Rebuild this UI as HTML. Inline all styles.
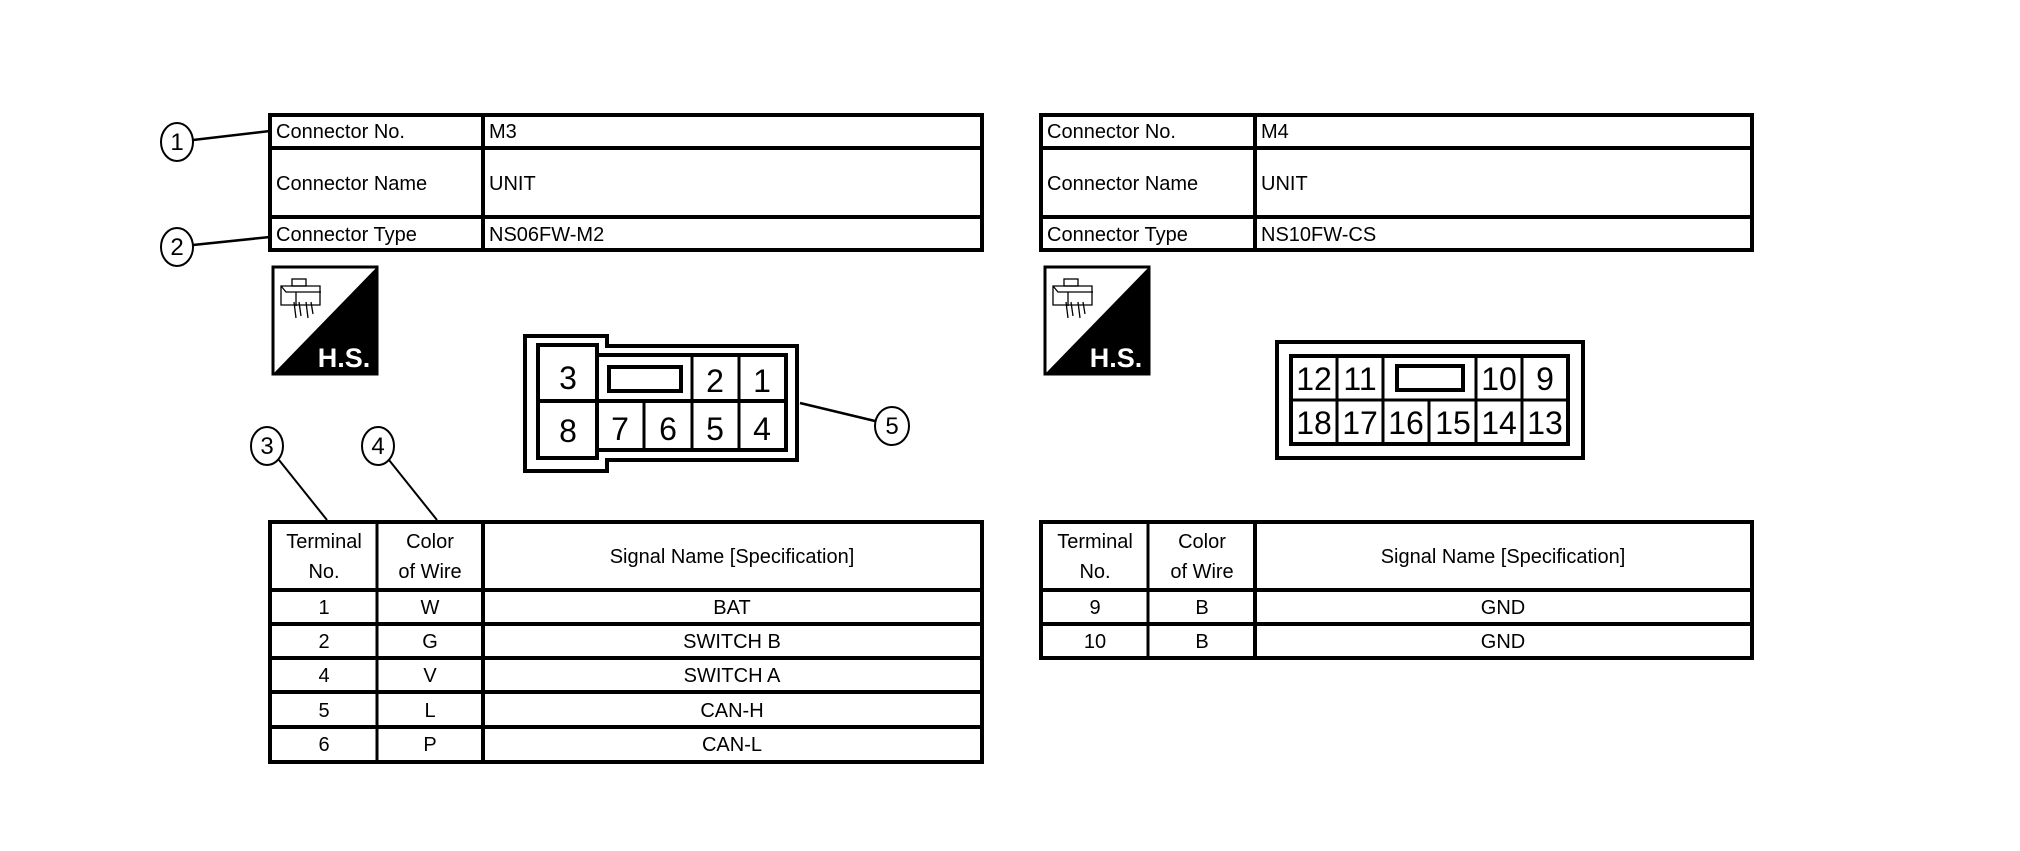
<!DOCTYPE html>
<html><head><meta charset="utf-8"><style>
html,body{margin:0;padding:0;background:#fff;}
svg{display:block;}
text{font-family:"Liberation Sans Narrow","Liberation Sans",sans-serif;fill:#000;}
</style></head><body>
<svg width="2020" height="851" viewBox="0 0 2020 851" xmlns="http://www.w3.org/2000/svg">
<rect width="2020" height="851" fill="#fff"/>
<g fill="none" stroke="#000">
<rect x="270" y="115" width="712" height="135" stroke-width="4"/>
<line x1="270" y1="148" x2="982" y2="148" stroke-width="4"/>
<line x1="270" y1="217" x2="982" y2="217" stroke-width="4"/>
<line x1="483" y1="115" x2="483" y2="250" stroke-width="4"/>
<rect x="1041" y="115" width="711" height="135" stroke-width="4"/>
<line x1="1041" y1="148" x2="1752" y2="148" stroke-width="4"/>
<line x1="1041" y1="217" x2="1752" y2="217" stroke-width="4"/>
<line x1="1255" y1="115" x2="1255" y2="250" stroke-width="4"/>
<ellipse cx="177" cy="142" rx="16" ry="19" stroke-width="2"/>
<line x1="193" y1="140" x2="270" y2="131" stroke-width="2.5"/>
<ellipse cx="177" cy="247" rx="16" ry="19" stroke-width="2"/>
<line x1="193" y1="245" x2="270" y2="237" stroke-width="2.5"/>
<ellipse cx="267" cy="446" rx="16" ry="19" stroke-width="2"/>
<line x1="279" y1="460" x2="327" y2="520" stroke-width="2"/>
<ellipse cx="378" cy="446" rx="16" ry="19" stroke-width="2"/>
<line x1="389" y1="460" x2="437" y2="520" stroke-width="2"/>
<ellipse cx="892" cy="426" rx="17" ry="19" stroke-width="2"/>
<line x1="800" y1="403" x2="875" y2="421" stroke-width="2.5"/>
<rect x="270" y="522" width="712" height="240" stroke-width="4"/>
<line x1="270" y1="590" x2="982" y2="590" stroke-width="4"/>
<line x1="270" y1="624" x2="982" y2="624" stroke-width="4"/>
<line x1="270" y1="658" x2="982" y2="658" stroke-width="4"/>
<line x1="270" y1="692" x2="982" y2="692" stroke-width="4"/>
<line x1="270" y1="727" x2="982" y2="727" stroke-width="4"/>
<line x1="377" y1="522" x2="377" y2="762" stroke-width="3"/>
<line x1="483" y1="522" x2="483" y2="762" stroke-width="4"/>
<rect x="1041" y="522" width="711" height="136" stroke-width="4"/>
<line x1="1041" y1="590" x2="1752" y2="590" stroke-width="4"/>
<line x1="1041" y1="624" x2="1752" y2="624" stroke-width="4"/>
<line x1="1148" y1="522" x2="1148" y2="658" stroke-width="3"/>
<line x1="1255" y1="522" x2="1255" y2="658" stroke-width="4"/>
<path d="M525 336 H607 V346 H797 V460 H607 V471 H525 Z" stroke-width="4"/>
<rect x="538" y="345" width="59" height="113" stroke-width="4"/>
<path d="M597 355 H786 V450 H597" stroke-width="4"/>
<line x1="538" y1="401" x2="786" y2="401" stroke-width="4"/>
<line x1="644" y1="401" x2="644" y2="450" stroke-width="3"/>
<line x1="692" y1="355" x2="692" y2="450" stroke-width="3"/>
<line x1="739" y1="355" x2="739" y2="450" stroke-width="3"/>
<rect x="609" y="367" width="72" height="24" stroke-width="4"/>
<g transform="translate(7,0)">
<rect x="1270" y="342" width="306" height="116" stroke-width="4"/>
<rect x="1284" y="356" width="277" height="88" stroke-width="4"/>
<line x1="1284" y1="400" x2="1561" y2="400" stroke-width="3"/>
<line x1="1330" y1="356" x2="1330" y2="444" stroke-width="3"/>
<line x1="1376" y1="356" x2="1376" y2="444" stroke-width="3"/>
<line x1="1422" y1="400" x2="1422" y2="444" stroke-width="3"/>
<line x1="1469" y1="356" x2="1469" y2="444" stroke-width="3"/>
<line x1="1515" y1="356" x2="1515" y2="444" stroke-width="3"/>
<rect x="1390" y="366" width="66" height="24" stroke-width="4"/>
</g>
</g>
<g>
<rect x="273" y="267" width="104" height="107" fill="#fff" stroke="#000" stroke-width="3"/>
<polygon points="377,267 377,374 273,374" fill="#000"/>
<g fill="none" stroke="#000" stroke-width="1.3">
<rect x="292" y="279" width="14" height="7"/>
<path d="M281 286 H320 V305 H281 Z M281 286 L286 292 H321 M296 292 V306"/>
<path d="M294 302 L296 318 M299 302 L301 316 M306 302 L308 318 M311 302 L313 314"/>
</g>
<text x="344" y="367" text-anchor="middle" font-size="27" font-weight="bold" style="fill:#fff">H.S.</text>
</g>
<g transform="translate(772,0)">
<rect x="273" y="267" width="104" height="107" fill="#fff" stroke="#000" stroke-width="3"/>
<polygon points="377,267 377,374 273,374" fill="#000"/>
<g fill="none" stroke="#000" stroke-width="1.3">
<rect x="292" y="279" width="14" height="7"/>
<path d="M281 286 H320 V305 H281 Z M281 286 L286 292 H321 M296 292 V306"/>
<path d="M294 302 L296 318 M299 302 L301 316 M306 302 L308 318 M311 302 L313 314"/>
</g>
<text x="344" y="367" text-anchor="middle" font-size="27" font-weight="bold" style="fill:#fff">H.S.</text>
</g>
<g font-size="24" text-anchor="middle">
<text x="177" y="150">1</text><text x="177" y="255">2</text>
<text x="267" y="454">3</text><text x="378" y="454">4</text><text x="892" y="434">5</text>
</g>
<g font-size="20">
<text x="276" y="138">Connector No.</text>
<text x="276" y="190">Connector Name</text>
<text x="276" y="241">Connector Type</text>
<text x="489" y="138">M3</text>
<text x="489" y="190">UNIT</text>
<text x="489" y="241">NS06FW-M2</text>
<text x="1047" y="138">Connector No.</text>
<text x="1047" y="190">Connector Name</text>
<text x="1047" y="241">Connector Type</text>
<text x="1261" y="138">M4</text>
<text x="1261" y="190">UNIT</text>
<text x="1261" y="241">NS10FW-CS</text>
</g>
<g font-size="20" text-anchor="middle">
<text x="324" y="548">Terminal</text><text x="324" y="578">No.</text>
<text x="430" y="548">Color</text><text x="430" y="578">of Wire</text>
<text x="732" y="563">Signal Name [Specification]</text>
<text x="324" y="614">1</text><text x="430" y="614">W</text><text x="732" y="614">BAT</text>
<text x="324" y="648">2</text><text x="430" y="648">G</text><text x="732" y="648">SWITCH B</text>
<text x="324" y="682">4</text><text x="430" y="682">V</text><text x="732" y="682">SWITCH A</text>
<text x="324" y="717">5</text><text x="430" y="717">L</text><text x="732" y="717">CAN-H</text>
<text x="324" y="751">6</text><text x="430" y="751">P</text><text x="732" y="751">CAN-L</text>
<text x="1095" y="548">Terminal</text><text x="1095" y="578">No.</text>
<text x="1202" y="548">Color</text><text x="1202" y="578">of Wire</text>
<text x="1503" y="563">Signal Name [Specification]</text>
<text x="1095" y="614">9</text><text x="1202" y="614">B</text><text x="1503" y="614">GND</text>
<text x="1095" y="648">10</text><text x="1202" y="648">B</text><text x="1503" y="648">GND</text>
</g>
<g font-size="32" text-anchor="middle" style="font-family:'Liberation Sans',sans-serif">
<text x="568" y="389">3</text><text x="568" y="442">8</text>
<text x="715" y="392">2</text><text x="762" y="392">1</text>
<text x="620" y="440">7</text><text x="668" y="440">6</text><text x="715" y="440">5</text><text x="762" y="440">4</text>
</g>
<g font-size="32" text-anchor="middle" transform="translate(7,0)">
<text x="1307" y="390">12</text><text x="1353" y="390">11</text><text x="1492" y="390">10</text><text x="1538" y="390">9</text>
<text x="1307" y="434">18</text><text x="1353" y="434">17</text><text x="1399" y="434">16</text><text x="1446" y="434">15</text><text x="1492" y="434">14</text><text x="1538" y="434">13</text>
</g>
</svg>
</body></html>
